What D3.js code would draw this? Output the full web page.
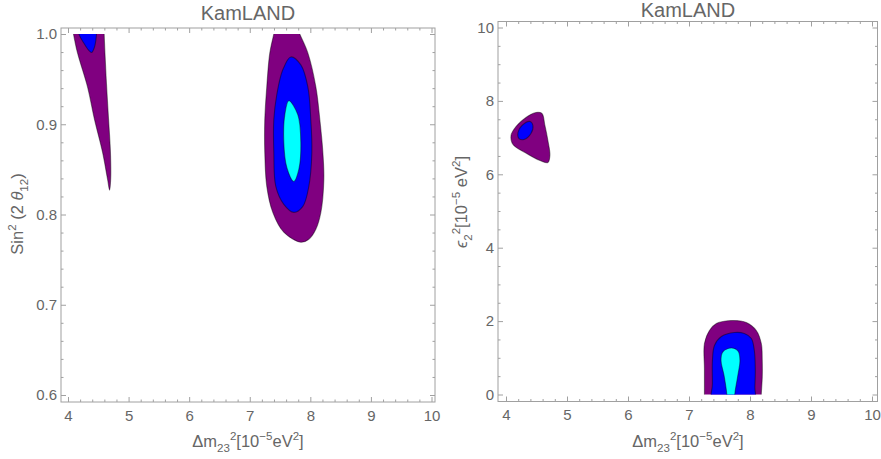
<!DOCTYPE html>
<html><head><meta charset="utf-8">
<script src="https://cdn.jsdelivr.net/npm/d3@7"></script>
<style>
body{margin:0;background:#fff}
svg{display:block}
text{font-family:"Liberation Sans",Arial,"DejaVu Sans",sans-serif;fill:#666}
</style></head>
<body>
<svg id="c" width="881" height="459"></svg>
<script>
// ---------- data ----------
const chartTitles = ["KamLAND", "KamLAND"];
const xTicks = [4, 5, 6, 7, 8, 9, 10];
const leftYTicks = [0.6, 0.7, 0.8, 0.9, 1.0];
const rightYTicks = [0, 2, 4, 6, 8, 10];
const levelNames = ["outer", "middle", "inner"];

// Left panel (Δm23², sin²2θ12) contour regions
const leftWedgeOuter = [[4.02,1.025],[4.09,1.0],[4.157,0.979],[4.322,0.9415],[4.438,0.905],[4.57,0.869],[4.653,0.839],[4.686,0.827],[4.705,0.84],[4.70,0.87],[4.67,0.905],[4.635,0.945],[4.61,0.979],[4.597,1.0],[4.585,1.025]];
const leftWedgeMiddle = [[4.15,1.02],[4.18,1.0],[4.26,0.99],[4.34,0.982],[4.39,0.9795],[4.435,0.985],[4.46,0.993],[4.47,1.0],[4.475,1.02]];
const leftEllipseOuter = [[7.46,1.02],[7.397,1.0],[7.331,0.979],[7.281,0.9415],[7.248,0.9051],[7.248,0.8687],[7.281,0.8311],[7.380,0.8024],[7.562,0.7804],[7.843,0.7693],[7.975,0.7726],[8.091,0.7837],[8.174,0.8024],[8.223,0.8389],[8.207,0.8687],[8.157,0.9051],[8.091,0.9415],[7.959,0.979],[7.826,1.0],[7.71,1.02]];
const leftEllipseMiddle = [[7.678,0.9746],[7.545,0.9603],[7.446,0.9327],[7.397,0.9051],[7.397,0.8687],[7.430,0.8311],[7.562,0.8113],[7.727,0.8024],[7.876,0.8090],[7.975,0.8311],[8.025,0.8687],[8.008,0.9051],[7.959,0.9415],[7.843,0.9658]];
const leftEllipseInner = [[7.645,0.926],[7.579,0.9106],[7.562,0.8797],[7.612,0.8521],[7.727,0.8366],[7.810,0.8499],[7.843,0.8797],[7.793,0.9106]];

// Right panel (Δm23², ε2²) contour regions
const rightIslandOuter = [[4.491,7.684],[4.589,7.657],[4.638,7.330],[4.687,6.921],[4.720,6.512],[4.687,6.322],[4.556,6.376],[4.311,6.594],[4.115,6.812],[4.082,7.057],[4.164,7.302],[4.327,7.548]];
const rightIslandMiddle = [[4.393,7.439],[4.441,7.330],[4.409,7.112],[4.294,6.948],[4.213,6.975],[4.196,7.139],[4.262,7.330]];
const rightArchOuter = [[7.25,-0.3],[7.253,0],[7.253,0.7],[7.253,1.390],[7.335,1.744],[7.449,1.935],[7.711,2.016],[7.940,1.962],[8.103,1.744],[8.185,1.390],[8.201,0.926],[8.201,0.463],[8.185,0],[8.18,-0.3]];
const rightArchMiddle = [[7.384,-0.3],[7.384,0.3],[7.384,0.926],[7.417,1.335],[7.531,1.580],[7.744,1.689],[7.907,1.662],[8.022,1.526],[8.071,1.199],[8.087,0.654],[8.08,0.2],[8.071,-0.3]];
const rightArchInner = [[7.62,-0.3],[7.62,0],[7.575,0.518],[7.525,0.926],[7.555,1.16],[7.695,1.265],[7.805,1.18],[7.835,0.926],[7.80,0.518],[7.75,0],[7.75,-0.3]];

// ---------- styles ----------
const levelColor = {outer:"#800080", middle:"#0000ff", inner:"#00ffff"};
const svg = d3.select("#c");

function rich(textSel, segs, size){
  let cur = 0;
  segs.forEach(s=>{
    const type = s.k || "n";
    const target = type==="sub" ? 0.28*size : type==="sup" ? -0.42*size : 0;
    const ts = textSel.append("tspan").text(s.t)
      .attr("dy", (target-cur).toFixed(2))
      .style("font-size", (type==="n"? size : size*0.7)+"px");
    if (s.i) ts.style("font-style","italic");
    cur = target;
  });
}

function panel(cfg){
  const g = svg.append("g");
  const x = d3.scaleLinear().domain([4,10]).range(cfg.xr);
  const y = d3.scaleLinear().domain(cfg.yd).range(cfg.yr);
  const f = cfg.frame;
  const id = "clip"+cfg.id;
  svg.append("clipPath").attr("id", id).append("rect")
    .attr("x", f.x0).attr("y", y(cfg.yd[1])).attr("width", f.x1-f.x0).attr("height", y(cfg.yd[0])-y(cfg.yd[1]));
  const area = g.append("g").attr("clip-path", `url(#${id})`);
  const line = d3.line().x(d=>x(d[0])).y(d=>y(d[1])).curve(d3.curveCatmullRomClosed.alpha(0.5));
  cfg.regions.forEach(r=>{
    area.append("path").attr("d", line(r.pts))
      .attr("fill", levelColor[r.level])
      .attr("stroke", "#000").attr("stroke-opacity", 0.42).attr("stroke-width", 1.1);
  });
  // frame
  g.append("rect").attr("x", f.x0).attr("y", f.y0).attr("width", f.x1-f.x0).attr("height", f.y1-f.y0)
    .attr("fill","none").attr("stroke","#a0a0a0").attr("stroke-width",1);
  const style = a => { a.select(".domain").remove(); a.selectAll("line").attr("stroke","#a0a0a0"); a.selectAll("text").attr("fill","#666").style("font-size","15px").attr("font-family", null); };
  const xMinor = d3.range(4, 10.001, 0.2).filter(v=>Math.abs(v-Math.round(v))>1e-6);
  const yMinor = d3.range(cfg.yd[0], cfg.yd[1]+1e-9, cfg.minorStep).filter(v=>!cfg.yTicks.some(t=>Math.abs(t-v)<1e-6));
  // bottom
  g.append("g").attr("transform",`translate(0,${f.y1})`).call(d3.axisBottom(x).tickValues(xTicks).tickSizeInner(-5).tickSizeOuter(0).tickPadding(8).tickFormat(d3.format("d"))).call(style);
  g.append("g").attr("transform",`translate(0,${f.y1})`).call(d3.axisBottom(x).tickValues(xMinor).tickSizeInner(-2.5).tickSizeOuter(0).tickFormat("")).call(style);
  // top
  g.append("g").attr("transform",`translate(0,${f.y0})`).call(d3.axisTop(x).tickValues(xTicks).tickSizeInner(-5).tickSizeOuter(0).tickFormat("")).call(style);
  g.append("g").attr("transform",`translate(0,${f.y0})`).call(d3.axisTop(x).tickValues(xMinor).tickSizeInner(-2.5).tickSizeOuter(0).tickFormat("")).call(style);
  // left
  g.append("g").attr("transform",`translate(${f.x0},0)`).call(d3.axisLeft(y).tickValues(cfg.yTicks).tickSizeInner(-5).tickSizeOuter(0).tickPadding(4).tickFormat(cfg.yFmt)).call(style);
  g.append("g").attr("transform",`translate(${f.x0},0)`).call(d3.axisLeft(y).tickValues(yMinor).tickSizeInner(-2.5).tickSizeOuter(0).tickFormat("")).call(style);
  // right
  g.append("g").attr("transform",`translate(${f.x1},0)`).call(d3.axisRight(y).tickValues(cfg.yTicks).tickSizeInner(-5).tickSizeOuter(0).tickFormat("")).call(style);
  g.append("g").attr("transform",`translate(${f.x1},0)`).call(d3.axisRight(y).tickValues(yMinor).tickSizeInner(-2.5).tickSizeOuter(0).tickFormat("")).call(style);
  // title
  g.append("text").attr("x", cfg.cx).attr("y", cfg.titleY).attr("text-anchor","middle").style("font-size","20px").text(cfg.title);
  // x label
  const xl = g.append("text").attr("x", cfg.cx).attr("y", 447).attr("text-anchor","middle").style("font-size","16.5px");
  rich(xl, [{t:"Δm"},{t:"23",k:"sub"},{t:"2",k:"sup"},{t:"[10"},{t:"−5",k:"sup"},{t:"eV"},{t:"2",k:"sup"},{t:"]"}], 16.5);
  // y label
  const yl = g.append("text").attr("transform",`translate(${cfg.ylx},${cfg.yly}) rotate(-90)`).attr("text-anchor","middle").style("font-size","16.5px");
  rich(yl, cfg.ylabel, 16.5);
}

panel({
  id:"L", title: chartTitles[0], xr:[68,431.5], yd:[0.6,1.0], yr:[395,34],
  frame:{x0:61,x1:435,y0:28,y1:402}, yTicks:leftYTicks, minorStep:0.02, yFmt:d3.format(".1f"),
  cx:248, titleY:20, ylx:23, yly:214,
  ylabel:[{t:"Sin"},{t:"2",k:"sup"},{t:" (2 "},{t:"θ",i:true},{t:"12",k:"sub"},{t:")"}],
  regions:[
    {level:levelNames[0], pts:leftWedgeOuter},
    {level:levelNames[1], pts:leftWedgeMiddle},
    {level:levelNames[0], pts:leftEllipseOuter},
    {level:levelNames[1], pts:leftEllipseMiddle},
    {level:levelNames[2], pts:leftEllipseInner}
  ]
});
panel({
  id:"R", title: chartTitles[1], xr:[506,872], yd:[0,10], yr:[394.5,27.5],
  frame:{x0:498,x1:877.5,y0:21.5,y1:401.5}, yTicks:rightYTicks, minorStep:0.5, yFmt:d3.format("d"),
  cx:688, titleY:16.5, ylx:467, yly:202,
  ylabel:[{t:"ϵ",i:true},{t:"2",k:"sub"},{t:"2",k:"sup"},{t:"[10"},{t:"−5",k:"sup"},{t:" eV"},{t:"2",k:"sup"},{t:"]"}],
  regions:[
    {level:levelNames[0], pts:rightIslandOuter},
    {level:levelNames[1], pts:rightIslandMiddle},
    {level:levelNames[0], pts:rightArchOuter},
    {level:levelNames[1], pts:rightArchMiddle},
    {level:levelNames[2], pts:rightArchInner}
  ]
});
</script>
</body></html>
